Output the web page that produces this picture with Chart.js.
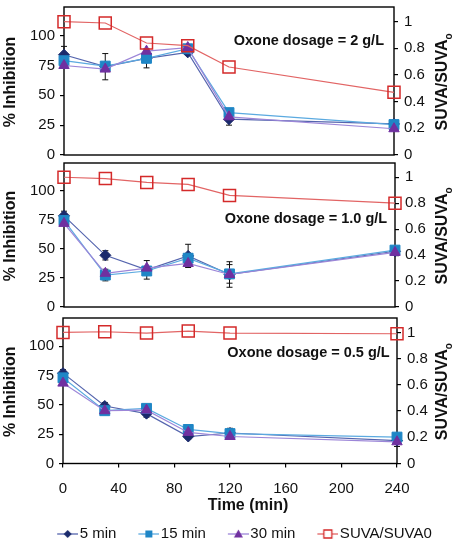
<!DOCTYPE html>
<html>
<head>
<meta charset="utf-8">
<script src="https://cdn.jsdelivr.net/npm/chart.js@4.4.0/dist/chart.umd.min.js"></script>
<style>
  html, body { margin: 0; padding: 0; background: #fff; overflow: hidden; }
  #wrap { position: relative; width: 458px; height: 541px; overflow: hidden; }
  canvas { position: absolute; left: 0; }
</style>
</head>
<body>
<div id="wrap">
  <canvas id="p1" width="458" height="166" style="top:0px"></canvas>
  <canvas id="p2" width="458" height="162" style="top:156px"></canvas>
  <canvas id="p3" width="458" height="244" style="top:311px"></canvas>
</div>
<script>
// sampling times (min)
const times = [0, 30, 60, 90, 120, 240];
const timeTicks = [0, 40, 80, 120, 160, 200, 240];
const inhibTicks = [0, 25, 50, 75, 100];
const suvaTicks = [0, 0.2, 0.4, 0.6, 0.8, 1];

const seriesNames = ['5 min', '15 min', '30 min', 'SUVA/SUVA0'];
const dosageLabels = ['Oxone dosage = 2 g/L', 'Oxone dosage = 1.0 g/L', 'Oxone dosage = 0.5 g/L'];
const leftTitle = '% Inhibition';
const rightTitle = 'SUVA/SUVA';
const rightTitleSub = 'o';
const xTitle = 'Time (min)';

// 2 g/L
const inh5_2g = [84, 74, 81, 86, 30, 26];
const inh15_2g = [79, 74.5, 81, 89, 35.5, 25.5];
const inh30_2g = [75, 72, 87, 90, 32, 22];
const suva_2g = [1.0, 0.99, 0.84, 0.82, 0.66, 0.47];
const err5_2g = [7, 11, 8, 2, 5, 2];

// 1.0 g/L
const inh5_1g = [78.5, 44.5, 32, 44, 28, 48];
const inh15_1g = [74.5, 27.5, 31, 42, 28.5, 49];
const inh30_1g = [72, 29, 33.5, 37.5, 28, 47];
const suva_1g = [1.0, 0.99, 0.96, 0.945, 0.86, 0.80];
const err5_1g = [4, 4, 8, 10, 11, 3];
const err15_1g = [0, 5, 0, 0, 8, 0];

// 0.5 g/L
const inh5_05g = [77, 49, 42.5, 23, 26, 19.5];
const inh15_05g = [73, 45, 47, 29, 25.5, 22.5];
const inh30_05g = [68.5, 45, 45.5, 26.5, 23, 18.5];
const suva_05g = [1.0, 1.005, 0.995, 1.01, 0.995, 0.99];
const err5_05g = [3, 3, 3, 2, 4, 5];

const fontFam = '"Liberation Sans", Arial, sans-serif';
Chart.defaults.font.family = fontFam;
Chart.defaults.color = '#111';

const col = {
  d5: '#1A2A6C', l5: '#5565AE',
  d15: '#1F86C6', l15: '#5BAAE0',
  d30: '#7030A0', l30: '#9C86D8',
  suva: '#D42A2A', lsuva: '#E26464'
};

function pts(arr) {
  return times.map((t, i) => ({ x: t, y: arr[i] }));
}

function legendIcon(kind, fill, line) {
  const c = document.createElement('canvas');
  c.width = 43; c.height = 14;
  const g = c.getContext('2d');
  const cx = 32.5, cy = 7;
  g.strokeStyle = line; g.lineWidth = 1.3;
  g.beginPath(); g.moveTo(22, cy); g.lineTo(43, cy); g.stroke();
  g.fillStyle = fill; g.strokeStyle = fill;
  g.beginPath();
  if (kind === 'diamond') {
    g.moveTo(cx, cy - 4); g.lineTo(cx + 4, cy); g.lineTo(cx, cy + 4); g.lineTo(cx - 4, cy); g.closePath(); g.fill();
  } else if (kind === 'square') {
    g.rect(cx - 3.5, cy - 3.5, 7, 7); g.fill();
  } else if (kind === 'triangle') {
    g.moveTo(cx, cy - 4.5); g.lineTo(cx + 4.5, cy + 3.5); g.lineTo(cx - 4.5, cy + 3.5); g.closePath(); g.fill();
  } else {
    g.fillStyle = '#fff';
    g.rect(cx - 4, cy - 4, 8, 8); g.fill();
    g.lineWidth = 1.3; g.stroke();
  }
  return c;
}
const icons = [
  legendIcon('diamond', col.d5, col.l5),
  legendIcon('square', col.d15, col.l15),
  legendIcon('triangle', col.d30, col.l30),
  legendIcon('open', col.suva, col.lsuva)
];

// frame, error bars, and texts
const decor = {
  id: 'decor',
  beforeDatasetsDraw(chart) {
    const { ctx, chartArea: a, scales } = chart;
    ctx.save();
    ctx.strokeStyle = '#000';
    ctx.lineWidth = 1.4;
    ctx.strokeRect(a.left, a.top, a.right - a.left, a.bottom - a.top);
    ctx.lineWidth = 1;
    ctx.strokeStyle = '#111';
    chart.data.datasets.forEach(ds => {
      if (!ds.errorBars) return;
      ds.errorBars.forEach((e, i) => {
        if (!e) return;
        const v = ds.data[i].y;
        const x = scales.x.getPixelForValue(times[i]);
        const y1 = scales.y.getPixelForValue(v + e);
        const y2 = scales.y.getPixelForValue(v - e);
        ctx.beginPath();
        ctx.moveTo(x, y1); ctx.lineTo(x, y2);
        ctx.moveTo(x - 3, y1); ctx.lineTo(x + 3, y1);
        ctx.moveTo(x - 3, y2); ctx.lineTo(x + 3, y2);
        ctx.stroke();
      });
    });
    ctx.restore();
  },
  afterDraw(chart, args, opts) {
    const { ctx, chartArea: a } = chart;
    const cy = (a.top + a.bottom) / 2;
    ctx.save();
    ctx.fillStyle = '#111';
    ctx.textBaseline = 'middle';
    ctx.textAlign = 'center';
    // dosage label
    ctx.font = 'bold 14.5px ' + fontFam;
    ctx.fillText(opts.label, a.left + opts.lx * (a.right - a.left), a.top + opts.ly * (a.bottom - a.top));
    // left title
    ctx.save();
    ctx.translate(11, cy + 1);
    ctx.rotate(-Math.PI / 2);
    ctx.font = 'bold 16px ' + fontFam;
    ctx.fillText(leftTitle, 0, 0);
    ctx.restore();
    // right title with subscript
    ctx.save();
    ctx.translate(443, cy + 1);
    ctx.rotate(-Math.PI / 2);
    ctx.textAlign = 'left';
    ctx.font = 'bold 16px ' + fontFam;
    const w1 = ctx.measureText(rightTitle).width;
    ctx.font = 'bold 10px ' + fontFam;
    const w2 = ctx.measureText(rightTitleSub).width;
    const x0 = -(w1 + w2) / 2;
    ctx.font = 'bold 16px ' + fontFam;
    ctx.fillText(rightTitle, x0, 0);
    ctx.font = 'bold 10px ' + fontFam;
    ctx.fillText(rightTitleSub, x0 + w1, 6);
    ctx.restore();
    // x title, below the bottom panel
    if (opts.xTitle) {
      ctx.font = 'bold 16px ' + fontFam;
      ctx.fillText(xTitle, 248, a.bottom + 42);
    }
    ctx.restore();
  }
};

function makePanel(canvas, p) {
  const tickGrid = { display: true, drawOnChartArea: false, drawTicks: true, tickLength: 4, color: '#000', lineWidth: 1.2 };
  const datasets = [
    { label: seriesNames[0], data: pts(p.d5), yAxisID: 'y', order: 3, errorBars: p.e5,
      pointStyle: 'rectRot', pointRadius: 5.5, backgroundColor: col.d5, pointBorderColor: col.d5, borderColor: col.l5, borderWidth: 1.2 },
    { label: seriesNames[1], data: pts(p.d15), yAxisID: 'y', order: 2, errorBars: p.e15,
      pointStyle: 'rect', pointRadius: 7, backgroundColor: col.d15, pointBorderColor: col.d15, borderColor: col.l15, borderWidth: 1.2 },
    { label: seriesNames[2], data: pts(p.d30), yAxisID: 'y', order: 1,
      pointStyle: 'triangle', pointRadius: 6, backgroundColor: col.d30, pointBorderColor: col.d30, borderColor: col.l30, borderWidth: 1.2 },
    { label: seriesNames[3], data: pts(p.suva), yAxisID: 'y1', order: 0,
      pointStyle: 'rect', pointRadius: 8.5, pointBackgroundColor: 'rgba(0,0,0,0)', pointBorderColor: col.suva, pointBorderWidth: 1.5,
      borderColor: col.lsuva, borderWidth: 1.2 }
  ];
  datasets.forEach(d => { d.clip = false; d.tension = 0; d.fill = false; d.pointBorderWidth = d.pointBorderWidth || 1; });

  return new Chart(canvas, {
    type: 'line',
    data: { datasets },
    options: {
      responsive: false,
      animation: false,
      events: [],
      layout: { padding: p.pad },
      scales: {
        x: {
          type: 'linear', min: 0, max: 240, display: p.showX,
          afterBuildTicks: s => { s.ticks = timeTicks.map(v => ({ value: v })); },
          afterFit: s => { if (p.showX) s.height = 57; },
          grid: tickGrid, border: { display: false },
          ticks: { font: { size: 15 }, color: '#111', padding: 12, maxRotation: 0 }
        },
        y: {
          position: 'left', min: 0, max: 124,
          afterBuildTicks: s => { s.ticks = inhibTicks.map(v => ({ value: v })); },
          afterFit: s => { s.width = p.leftW; },
          grid: tickGrid, border: { display: false },
          ticks: { font: { size: 15 }, color: '#111', padding: 5 }
        },
        y1: {
          position: 'right', min: 0, max: 1.11,
          afterBuildTicks: s => { s.ticks = suvaTicks.map(v => ({ value: v })); },
          afterFit: s => { s.width = p.rightW; },
          grid: tickGrid, border: { display: false },
          ticks: { font: { size: 15 }, color: '#111', padding: 6, callback: v => String(v) }
        }
      },
      plugins: {
        tooltip: { enabled: false },
        legend: {
          display: p.showLegend,
          position: 'bottom',
          labels: {
            usePointStyle: true,
            pointStyleWidth: 31,
            padding: 6,
            color: '#111',
            font: { size: 15 },
            sort: (a, b) => a.datasetIndex - b.datasetIndex,
            generateLabels: chart => Chart.defaults.plugins.legend.labels.generateLabels(chart)
              .map(it => Object.assign(it, { pointStyle: icons[it.datasetIndex] }))
          }
        },
        decor: { label: p.label, lx: p.lx, ly: p.ly, xTitle: p.showX }
      }
    },
    plugins: [decor]
  });
}

// build once, then resize/move the canvas so the plot box lands on [top, bottom]
function placePanel(id, p, top, bottom) {
  const canvas = document.getElementById(id);
  let chart = makePanel(canvas, p);
  const a = chart.chartArea;
  const h = Math.round(canvas.height + (bottom - top) - (a.bottom - a.top));
  const offset = a.top;
  chart.destroy();
  canvas.height = h;
  canvas.style.height = h + 'px';
  canvas.style.top = (top - offset) + 'px';
  chart = makePanel(canvas, p);
  return chart;
}

placePanel('p1', {
  d5: inh5_2g, d15: inh15_2g, d30: inh30_2g, suva: suva_2g, e5: err5_2g, e15: null,
  label: dosageLabels[0], lx: 0.742, ly: 0.233,
  pad: { top: 4, bottom: 4, left: 0, right: 0 }, leftW: 64, rightW: 64, showX: false, showLegend: false
}, 7, 155);
placePanel('p2', {
  d5: inh5_1g, d15: inh15_1g, d30: inh30_1g, suva: suva_1g, e5: err5_1g, e15: err15_1g,
  label: dosageLabels[1], lx: 0.731, ly: 0.389,
  pad: { top: 4, bottom: 4, left: 0, right: 0 }, leftW: 64, rightW: 63, showX: false, showLegend: false
}, 163, 307);
placePanel('p3', {
  d5: inh5_05g, d15: inh15_05g, d30: inh30_05g, suva: suva_05g, e5: err5_05g, e15: null,
  label: dosageLabels[2], lx: 0.735, ly: 0.24,
  pad: { top: 4, bottom: 1.5, left: 15, right: 0 }, leftW: 48, rightW: 61, showX: true, showLegend: true
}, 318, 463);
</script>
</body>
</html>
